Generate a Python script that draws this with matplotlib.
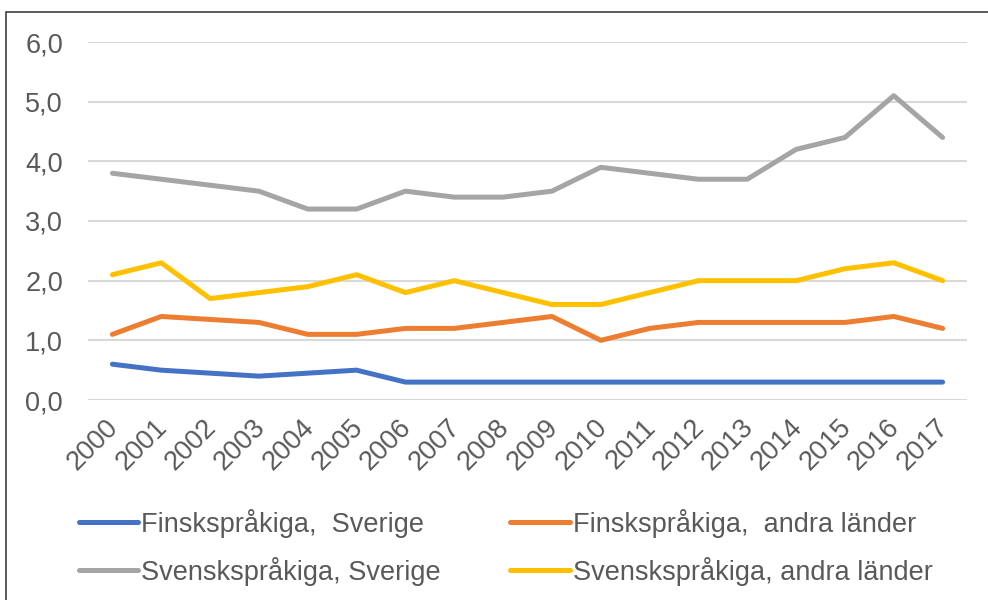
import matplotlib
matplotlib.use("Agg")
import matplotlib.pyplot as plt
import matplotlib.transforms as mtransforms
from matplotlib.patches import Rectangle

# Data
years = [str(y) for y in range(2000, 2018)]
fi_sverige = [0.6, 0.5, 0.45, 0.4, 0.45, 0.5, 0.3, 0.3, 0.3, 0.3, 0.3, 0.3, 0.3, 0.3, 0.3, 0.3, 0.3, 0.3]
fi_andra = [1.1, 1.4, 1.35, 1.3, 1.1, 1.1, 1.2, 1.2, 1.3, 1.4, 1.0, 1.2, 1.3, 1.3, 1.3, 1.3, 1.4, 1.2]
sv_sverige = [3.8, 3.7, 3.6, 3.5, 3.2, 3.2, 3.5, 3.4, 3.4, 3.5, 3.9, 3.8, 3.7, 3.7, 4.2, 4.4, 5.1, 4.4]
sv_andra = [2.1, 2.3, 1.7, 1.8, 1.9, 2.1, 1.8, 2.0, 1.8, 1.6, 1.6, 1.8, 2.0, 2.0, 2.0, 2.2, 2.3, 2.0]

series = [
    ("Finskspråkiga,  Sverige", fi_sverige, "#4472C4"),
    ("Finskspråkiga,  andra länder", fi_andra, "#ED7D31"),
    ("Svenskspråkiga, Sverige", sv_sverige, "#A5A5A5"),
    ("Svenskspråkiga, andra länder", sv_andra, "#FFC000"),
]

plt.rcParams['font.family'] = ['Liberation Sans', 'DejaVu Sans']
text_color = "#595959"
fs = 19.5

fig = plt.figure(figsize=(9.88, 6), dpi=100)
ax = fig.add_axes([88 / 988, 1 - 400 / 600, (967 - 88) / 988, (400 - 42) / 600])

x = list(range(len(years)))
lines = []
for label, vals, color in series:
    ln, = ax.plot(x, vals, color=color, linewidth=3.6, label=label, solid_capstyle='round')
    lines.append(ln)

ax.set_xlim(-0.5, len(years) - 0.5)
ax.set_ylim(0, 6)
ax.set_yticks([0, 1, 2, 3, 4, 5, 6])
ax.set_yticklabels([f"{v:.1f}".replace(".", ",") for v in range(7)])
ax.set_xticks(x)
ax.set_xticklabels(years, rotation=45, ha='right', rotation_mode='anchor')
ax.tick_params(axis='both', length=0, labelsize=fs, colors=text_color)
ax.tick_params(axis='x', pad=8)
ax.tick_params(axis='y', pad=18)
# nudge the rotated year labels a little left/down
shift = mtransforms.ScaledTranslation(-7 / 100, -3 / 100, fig.dpi_scale_trans)
for lbl in ax.get_xticklabels():
    lbl.set_transform(lbl.get_transform() + shift)
ax.grid(axis='y', color="#D9D9D9", linewidth=1.5)
ax.set_axisbelow(True)
for side in ax.spines:
    ax.spines[side].set_visible(False)

# matplotlib fills legend columns first, so reorder to get row-wise order
order = [0, 2, 1, 3]
leg = fig.legend([lines[i] for i in order], [series[i][0] for i in order],
                 loc='upper left', bbox_to_anchor=(65 / 988, 1 - 495 / 600), ncol=2,
                 frameon=False, fontsize=fs, handlelength=2.2, handletextpad=0.12,
                 columnspacing=2.55, labelspacing=0.7, borderpad=0)
for t in leg.get_texts():
    t.set_color(text_color)

# outer chart border
fig.patches.append(Rectangle((6 / 988, -0.1), 1.2, 1.1 - 12 / 600, transform=fig.transFigure,
                             fill=False, edgecolor="#404040", linewidth=1.2))

fig.savefig("out.png", dpi=100)
